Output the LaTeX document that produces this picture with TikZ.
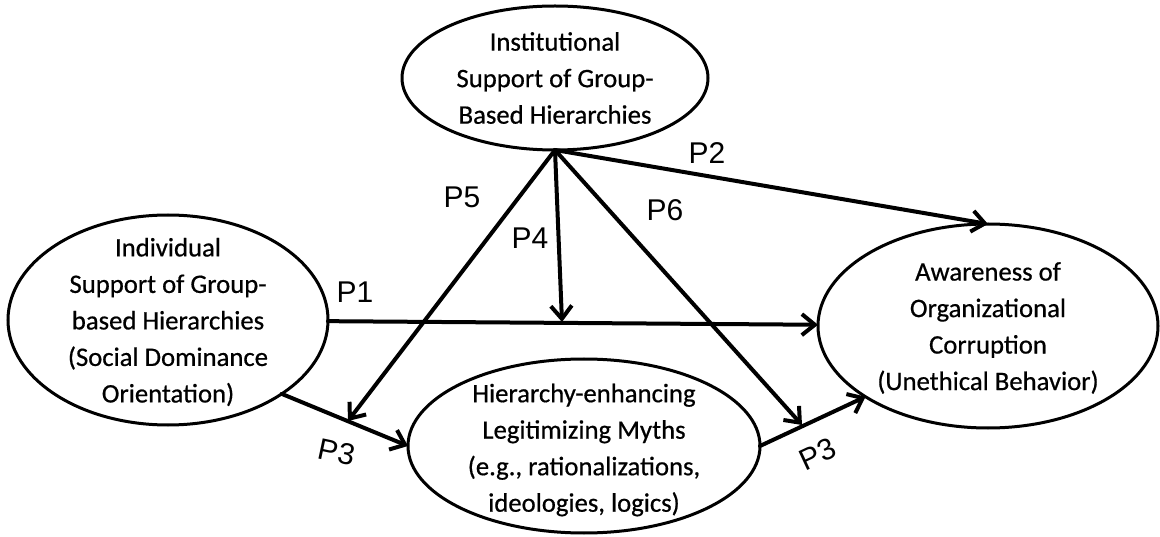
\documentclass[tikz,border=0pt]{standalone}
\usepackage{fontspec}
\setmainfont{Carlito}[FakeBold=0.6,AutoFakeBold=0.6]
\newfontfamily\plabelfont{Liberation Sans}
\usetikzlibrary{shapes.geometric,arrows.meta}

\tikzset{
  construct/.style={draw, ellipse, line width=3pt, inner sep=0pt, outer sep=0pt},
  ctext/.style={align=center, font=\fontsize{26.7}{36.5}\selectfont, inner sep=0pt},
  link/.style={line width=4pt, -{Straight Barb[length=13pt,width=21pt]}, line cap=round},
  plabel/.style={font=\plabelfont\fontsize{30}{32}\selectfont, inner sep=0pt},
}

\begin{document}
\begin{tikzpicture}[x=1pt,y=-1pt]
  \useasboundingbox (0,0) rectangle (1160,537);

  % constructs
  \node[construct, minimum width=306pt, minimum height=144pt,
        label={[ctext]center:Institutional\\Support of Group-\\Based Hierarchies}]
        (inst) at (555,78) {};
  \node[construct, minimum width=320pt, minimum height=210pt,
        label={[ctext, yshift=-2pt]center:Individual\\Support of Group-\\based Hierarchies\\(Social Dominance\\Orientation)}]
        (indiv) at (168,320) {};
  \node[construct, minimum width=340pt, minimum height=204pt,
        label={[ctext, yshift=-2pt]center:Awareness of\\Organizational\\Corruption\\(Unethical Behavior)}]
        (aware) at (988,326) {};
  \node[construct, minimum width=352pt, minimum height=174pt,
        label={[ctext, yshift=-4pt]center:Hierarchy-enhancing\\Legitimizing Myths\\(e.g.,~rationalizations,\\ideologies, logics)}]
        (myths) at (584,446) {};

  % end points of the paths that meet other paths
  \coordinate (p4end) at (562,322);
  \coordinate (p5end) at (348,421);
  \coordinate (p6end) at (802,425);

  % paths
  \draw[link] (indiv) -- (aware);
  \draw[link] (inst.south) -- (aware.north);
  \draw[link] (inst.south) -- (p4end);
  \draw[link] (inst.south) -- (p5end);
  \draw[link] (inst.south) -- (p6end);
  \draw[link] (indiv.-33) -- (myths.west);
  \draw[link] (myths.east) -- (aware.210);

  % path labels
  \node[plabel] (l1) at (355,292) {P1};
  \node[plabel] (l2) at (707,153) {P2};
  \node[plabel] (l4) at (530,238) {P4};
  \node[plabel] (l5) at (462,197) {P5};
  \node[plabel] (l6) at (665,210) {P6};
  \node[plabel, rotate=-12] (l3a) at (337,452) {P3};
  \node[plabel, rotate=25] (l3b) at (818,454) {P3};
\end{tikzpicture}
\end{document}
